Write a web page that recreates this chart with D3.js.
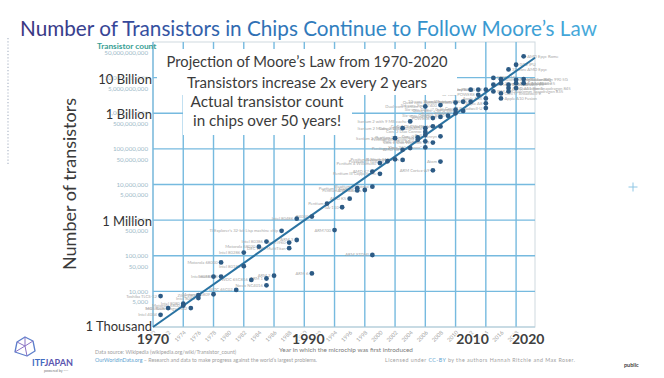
<!DOCTYPE html>
<html><head><meta charset="utf-8">
<script src="https://cdn.jsdelivr.net/npm/d3@7"></script>
<style>
body{margin:0;background:#fff;}
svg{display:block;font-family:Lato,"Open Sans",sans-serif;}
</style></head><body>
<svg id="c" width="664" height="378"></svg>
<script>
// ---------------- DATA ----------------
const chipNames = ["Intel 4004","Toshiba TLCS-12","Intel 8008","Intel 8080","Motorola 6800","MOS Technology 6502","Intel 8085","Zilog Z80","Motorola 6809","Intel 8086","Intel 8088","Motorola 68000","WDC 65C02","Intel 80186","Intel 80286","WDC 65C816","Motorola 68020","Intel 80386","ARM 1","Novix NC4016","ARM 2","TI Explorer's 32-bit Lisp machine chip","Intel i960","DEC WRL MultiTitan","ARM 3","Intel 80486","R4000","ARM 6","Pentium","ARM700","SA-110","AMD K5","Pentium II Klamath","AMD K6","Pentium II Deschutes","Pentium III Katmai","AMD K7","ARM 9TDMI","Pentium III Coppermine","Pentium 4 Willamette","Pentium III Tualatin","Pentium 4 Northwood","Itanium 2 McKinley","AMD K8","Pentium M Banias","Itanium 2 Madison 6M","Pentium 4 Prescott","Itanium 2 with 9 MB cache","Pentium D Smithfield","Pentium 4 Prescott-2M","Xbox 360 \"Xenon\"","Cell","Core 2 Duo Conroe","Core 2 Duo Allendale","Core 2 Quad Kentsfield","Dual-core Itanium 2","ARM Cortex-A9","Core 2 Duo Wolfdale 3M","Core 2 Duo Wolfdale","POWER6","Atom","Core 2 Duo Penryn","Core 2 Quad Yorkfield","Core i7 (Quad)","Six-core Xeon 7400","Six-core Opteron 2400","8-core POWER7","Six-core Core i7 Gulftown","Quad-core Itanium Tukwila","Quad-core + GPU Core i7","10-core Xeon Westmere-EX","8-core Itanium Poulson","62-core Xeon Phi","Xbox One main SoC","12-core POWER8","15-core Xeon Ivy Bridge-EX","Apple A8X","Apple A8","Core i7 Broadwell-U","SPARC M7","18-core Xeon Haswell-E5","IBM z13","Xeon Phi Knights Landing","22-core Xeon Broadwell-E5","Core i7 Broadwell-E","Apple A10 Fusion","32-core AMD Epyc","IBM z14","Apple A11 Bionic","Qualcomm Snapdragon 835","GC2 IPU","Tegra Xavier SoC","Apple A12 Bionic","Qualcomm Snapdragon 845","AMD Epyc Rome","HiSilicon Kirin 990 5G","Apple A13"];
const chipYears = [1971,1971,1972,1974,1974,1975,1976,1976,1978,1978,1979,1979,1981,1982,1982,1983,1984,1985,1985,1985,1986,1987,1988,1988,1989,1989,1991,1991,1993,1994,1995,1996,1997,1997,1998,1999,1999,1999,2000,2000,2001,2002,2002,2003,2003,2003,2004,2004,2005,2005,2006,2006,2006,2006,2006,2006,2007,2007,2007,2007,2008,2008,2008,2008,2008,2009,2010,2010,2010,2011,2011,2012,2012,2013,2013,2014,2014,2014,2014,2015,2015,2015,2016,2016,2016,2016,2017,2017,2017,2017,2018,2018,2018,2018,2019,2019,2019];
const chipCounts = [2200,7400,3400,4500,4000,3400,6500,7800,8300,26000,26000,65000,11000,51000,123000,21000,180000,250000,23000,14800,27600,500000,235000,163000,277000,1100000,1260000,32000,2900000,525000,2300000,4000000,7900000,6800000,7000000,8700000,23000000,105000,20000000,40000000,45000000,51000000,200000000,94000000,49000000,380000000,105000000,590000000,209000000,180000000,110000000,245000000,300000000,163000000,380000000,1550000000,25000000,150000000,430000000,730000000,44000000,225000000,427000000,790000000,1700000000,850000000,1000000000,1260000000,2000000000,1160000000,2100000000,2100000000,4600000000,4600000000,3300000000,4600000000,2600000000,1900000000,1400000000,9800000000,6300000000,4100000000,9000000000,7000000000,3600000000,2600000000,17000000000,6300000000,5100000000,4100000000,23000000000,8700000000,7000000000,5100000000,39500000000,9100000000,7000000000];

// projection line drawn by the presenter (2x every 2 years)
const mooreYears = [1970, 2020.5];
const mooreCounts = [1000, 36000000000];

const xDomain = [1970, 2020.5];
const yDomain = [1e3, 1e11];
const yTickValues = [5e10,1e10,5e9,1e9,5e8,1e8,5e7,1e7,5e6,1e6,5e5,1e5,5e4,1e4,5e3];
const yBigValues = [1e10, 1e9, 1e6, 1e3];
const yBigLabels = ["10 Billion","1 Billion","1 Million","1 Thousand"];
const xSmallTicks = [1970,1972,1974,1976,1978,1980,1982,1984,1986,1988,1990,1992,1994,1996,1998,2000,2002,2004,2006,2008,2010,2012,2014,2016,2018];
const xBigTicks = [1970,1990,2010,2020];
const gridYears = [1970,1974,1978,1982,1986,1990,1994,1998,2002,2006,2010,2014,2018];
const gridDecades = [1e4,1e5,1e6,1e7,1e8,1e9,1e10];

const titleText = "Number of Transistors in Chips Continue to Follow Moore’s Law";
const boxLines1 = ["Projection of Moore’s Law from 1970-2020","Transistors increase 2x every 2 years"];
const boxLines2 = ["Actual transistor count","in chips over 50 years!"];

// ---------------- LAYOUT ----------------
const P = {left:153, right:535, top:42, bottom:327};
const xBigDx = [0, 4, 17, -3];
const box1 = {x:157, y:49, w:300, h:46, cx:307, base:[66.5,88], len:[281,240]};
const box2 = {x:183, y:95, w:169, h:40, cx:267, base:[107.3,126.3], len:[153,148]};

const svg = d3.select("#c");
const x = d3.scaleLinear().domain(xDomain).range([P.left, P.right]);
const y = d3.scaleLog().domain(yDomain).range([P.bottom, P.top]);

const chips = chipNames.map((n,i)=>({name:n, year:chipYears[i], count:chipCounts[i]}));

// defs
const defs = svg.append("defs");
const g1 = defs.append("linearGradient").attr("id","tg").attr("gradientUnits","userSpaceOnUse")
  .attr("x1",20).attr("x2",597).attr("y1",0).attr("y2",0);
[[0,"#38357f"],[0.18,"#35479a"],[0.4,"#2f6eb3"],[0.7,"#3390cb"],[1,"#47aadb"]]
  .forEach(s=>g1.append("stop").attr("offset",s[0]).attr("stop-color",s[1]));

// slide decorations
svg.append("line").attr("x1",8).attr("x2",8).attr("y1",38).attr("y2",166)
  .attr("stroke","#c3cad6").attr("stroke-width",1.6).attr("stroke-dasharray","1.2,2");
svg.append("path").attr("d","M628.5,187H637.5M633,182.5V191.5").attr("stroke","#8ec6e4").attr("stroke-width",1);

// title
svg.append("text").attr("x",20).attr("y",36).attr("font-size",22)
  .attr("textLength",577).attr("lengthAdjust","spacingAndGlyphs")
  .attr("fill","url(#tg)").text(titleText);

// frame
svg.append("rect").attr("x",P.left).attr("y",P.top).attr("width",P.right-P.left).attr("height",P.bottom-P.top)
  .attr("fill","none").attr("stroke","#cfd9df").attr("stroke-width",1);

// overlay grid
const gg = svg.append("g").attr("stroke","#76badf").attr("stroke-width",1.4);
gg.selectAll(".v").data(gridYears).join("line")
  .attr("x1",d=>x(d)).attr("x2",d=>x(d)).attr("y1",y(yDomain[1])).attr("y2",y(yDomain[0]));
gg.selectAll(".h").data(gridDecades).join("line")
  .attr("x1",x(xDomain[0])).attr("x2",x(xDomain[1])).attr("y1",d=>y(d)).attr("y2",d=>y(d));
svg.append("line").attr("x1",x(xDomain[0])).attr("x2",x(xDomain[1])).attr("y1",y(yDomain[0])).attr("y2",y(yDomain[0]))
  .attr("stroke","#a9c9da").attr("stroke-width",1.2);

// chip labels
svg.append("g").attr("font-size",4.2).attr("fill","#a9a9a9")
  .selectAll("text").data(chips).join("text")
  .attr("x",d=>d.year>=2015 ? x(d.year)+3.5 : x(d.year)-3.5)
  .attr("y",d=>y(d.count)+1.5)
  .attr("text-anchor",d=>d.year>=2015 ? "start" : "end")
  .text(d=>d.name);

// trend line
const line = d3.line().x(d=>x(d[0])).y(d=>y(d[1]));
svg.append("path").datum(mooreYears.map((yr,i)=>[yr,mooreCounts[i]]))
  .attr("d",line).attr("fill","none").attr("stroke","#2a73a2").attr("stroke-width",2);

// dots
svg.append("g").selectAll("circle").data(chips).join("circle")
  .attr("cx",d=>x(d.year)).attr("cy",d=>y(d.count)).attr("r",2.4).attr("fill","#2d5b85");

// text boxes
[[box1,boxLines1],[box2,boxLines2]].forEach(([b,lines])=>{
  svg.append("rect").attr("x",b.x).attr("y",b.y).attr("width",b.w).attr("height",b.h).attr("fill","#fff");
  lines.forEach((t,i)=>svg.append("text").attr("x",b.cx).attr("y",b.base[i]).attr("text-anchor","middle")
    .attr("font-size",14.5).attr("fill","#3b3b3b").attr("textLength",b.len[i]).attr("lengthAdjust","spacingAndGlyphs").text(t));
});

// y axis
svg.append("text").attr("x",97).attr("y",49).attr("font-size",8.3).attr("font-weight",700)
  .attr("fill","#3a9f95").text("Transistor count");
const fmt = d3.format(",");
svg.append("g").attr("font-size",6.2).attr("fill","#9db9c8").attr("text-anchor","end")
  .selectAll("text").data(yTickValues).join("text")
  .attr("x",P.left-5).attr("y",d=>y(d)).attr("dy","0.35em").text(d=>fmt(d));
svg.append("g").attr("font-size",13).attr("fill","#333").attr("text-anchor","end")
  .attr("stroke","#fff").attr("stroke-width",1.4).attr("paint-order","stroke")
  .selectAll("text").data(yBigValues).join("text")
  .attr("x",P.left-1).attr("y",(d,i)=>y(d)+(i===3?-0.5:1.5)).attr("dy","0.35em")
  .text((d,i)=>yBigLabels[i]);
svg.append("text").attr("transform","translate(76,184) rotate(-90)").attr("text-anchor","middle")
  .attr("font-size",18).attr("fill","#3a3a3a").text("Number of transistors");

// x axis
svg.append("g").attr("font-size",5.6).attr("fill","#a3a3a3").attr("text-anchor","end")
  .selectAll("text").data(xSmallTicks).join("text")
  .attr("transform",d=>`translate(${x(d)+3},${P.bottom+6}) rotate(-45)`).text(d=>d);
svg.append("g").attr("font-size",14).attr("font-weight",700).attr("fill","#404040").attr("text-anchor","middle")
  .attr("stroke","#fff").attr("stroke-width",2.5).attr("paint-order","stroke")
  .selectAll("text").data(xBigTicks).join("text")
  .attr("x",(d,i)=>x(d)+xBigDx[i]).attr("y",344).text(d=>d);
svg.append("text").attr("x",346).attr("y",352).attr("text-anchor","middle").attr("font-size",6.4)
  .attr("fill","#7a7a7a").text("Year in which the microchip was first introduced");

// footer source
const f1 = svg.append("text").attr("x",95).attr("y",354).attr("font-size",5.3).attr("fill","#a0a0a0");
f1.append("tspan").text("Data source: Wikipedia (wikipedia.org/wiki/Transistor_count)");
const f2 = svg.append("text").attr("x",95).attr("y",362).attr("font-size",5.3).attr("fill","#a0a0a0");
f2.append("tspan").attr("fill","#5b9fd0").text("OurWorldinData.org");
f2.append("tspan").text(" – Research and data to make progress against the world’s largest problems.");
const f3 = svg.append("text").attr("x",385).attr("y",362).attr("font-size",5.3).attr("fill","#a0a0a0")
  .attr("textLength",190).attr("lengthAdjust","spacing");
f3.append("tspan").text("Licensed under ");
f3.append("tspan").attr("fill","#5b9fd0").text("CC-BY");
f3.append("tspan").text(" by the authors Hannah Ritchie and Max Roser.");

// logo
const lg = svg.append("g").attr("fill","none").attr("stroke-width",1.3).attr("stroke-linejoin","round");
lg.append("path").attr("d","M15,352 L17,342 L25,337 L33,341 L35,351 L27,356 Z").attr("stroke","#5d7fcb");
lg.append("path").attr("d","M17,342 L25,346 L33,341 M25,346 L27,356 M15,352 L25,346 M25,337 L25,346").attr("stroke","#8b73c4").attr("stroke-width",1);
const lt = svg.append("text").attr("x",32).attr("y",366).attr("font-size",10).attr("font-weight",700)
  .attr("textLength",41).attr("lengthAdjust","spacingAndGlyphs");
lt.append("tspan").attr("fill","#3f6cc2").text("ITF");
lt.append("tspan").attr("fill","#5b56b0").text("JAPAN");
svg.append("text").attr("x",44).attr("y",372).attr("font-size",3.6).attr("fill","#777").text("powered by ·····");

svg.append("text").attr("x",624).attr("y",367).attr("font-size",5.5).attr("font-weight",700)
  .attr("fill","#444").text("public");
</script>
</body></html>
